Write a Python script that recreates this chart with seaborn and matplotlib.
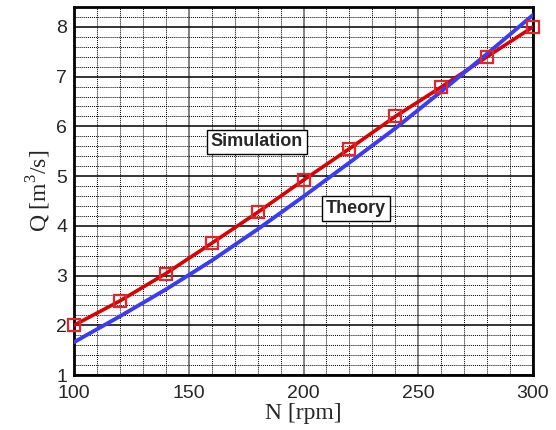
import numpy as np
import pandas as pd
import matplotlib
matplotlib.use("Agg")
import matplotlib.pyplot as plt
from matplotlib.ticker import MultipleLocator
import seaborn as sns

# Data
N_rpm = [100, 120, 140, 160, 180, 200, 220, 240, 260, 280, 300]
Q_simulation = [2.00, 2.49, 3.04, 3.65, 4.27, 4.92, 5.55, 6.20, 6.79, 7.40, 8.00]
Q_theory = [1.66, 2.18, 2.72, 3.30, 3.93, 4.59, 5.27, 5.96, 6.70, 7.46, 8.24]
x_ticks = [100, 150, 200, 250, 300]
y_ticks = [1, 2, 3, 4, 5, 6, 7, 8]

sns.set_style("white")
plt.rcParams["font.family"] = ["Liberation Sans", "DejaVu Sans"]
plt.rcParams["mathtext.fontset"] = "custom"
plt.rcParams["mathtext.rm"] = "Liberation Serif"

df = pd.DataFrame({"N": N_rpm, "sim": Q_simulation, "theory": Q_theory})

fig = plt.figure(figsize=(5.56, 4.30), dpi=100)
ax = fig.add_axes([74 / 556, 55 / 430, 459 / 556, 368 / 430])

red = "#dd0000"
blue = "#3b3bf5"

sns.lineplot(data=df, x="N", y="sim", color=red, lw=2.6, ax=ax, zorder=3)
sns.lineplot(data=df, x="N", y="theory", color=blue, lw=2.8, ax=ax, zorder=4)
sns.lineplot(data=df, x="N", y="sim", color=red, lw=0, marker="s", markersize=8.5,
             markerfacecolor="none", markeredgecolor="#e0262a", markeredgewidth=1.6,
             ax=ax, zorder=5, clip_on=False)

ax.set_xlim(100, 300)
ax.set_ylim(1, 8.40)
ax.set_xticks(x_ticks)
ax.set_yticks(y_ticks)
ax.xaxis.set_minor_locator(MultipleLocator(10))
ax.yaxis.set_minor_locator(MultipleLocator(0.2))

ax.set_axisbelow(True)
ax.grid(which="minor", axis="both", color="black", linestyle=(0, (1, 1)), lw=0.7)
ax.grid(which="major", axis="x", color="#777777", linestyle="-", lw=1.3)
ax.grid(which="major", axis="y", color="black", linestyle="-", lw=1.1)

ax.tick_params(which="major", direction="in", length=9, width=2, labelsize=14,
               top=False, right=False)
ax.tick_params(axis="x", which="major", pad=7)
ax.tick_params(axis="y", which="major", pad=5)
ax.tick_params(which="minor", length=0)

for s in ax.spines.values():
    s.set_linewidth(2)
    s.set_color("black")

ax.set_xlabel("N [rpm]", family=["Liberation Serif", "DejaVu Serif"], fontsize=17, labelpad=1)
ax.set_ylabel("Q [m$^3$/s]", family=["Liberation Serif", "DejaVu Serif"], fontsize=17, labelpad=2)

box = dict(boxstyle="square,pad=0.2", facecolor="white", edgecolor="black", lw=1)
ax.text(179.7, 5.69, "Simulation", ha="center", va="center", fontsize=13,
        fontweight="bold", bbox=box, zorder=6)
ax.text(222.9, 4.35, "Theory", ha="center", va="center", fontsize=13,
        fontweight="bold", bbox=box, zorder=6)

fig.savefig("out.png", dpi=100)
